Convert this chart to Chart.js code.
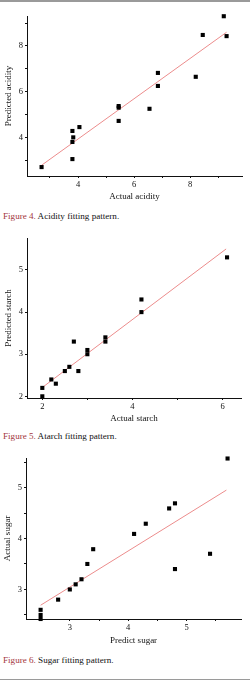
<!DOCTYPE html>
<html>
<head>
<meta charset="utf-8">
<script src="https://cdn.jsdelivr.net/npm/chart.js@4.4.0/dist/chart.umd.min.js"></script>
<style>
  body { margin: 0; width: 250px; height: 683px; position: relative; background: #fff; overflow: hidden; }
  .box { position: absolute; left: 0; width: 250px; }
  .cap { position: absolute; left: 3px; font-family: "Liberation Serif", serif; font-size: 9.1px; color: #111; white-space: nowrap; line-height: 10px; }
  .cap span { color: #a3353b; }
  .rule { position: absolute; left: 0; width: 250px; height: 1px; background: #9a9a9a; }
</style>
</head>
<body>
<div class="rule" style="top:0;height:2px"></div>

<div class="box" style="top:0;height:205px"><canvas id="c1"></canvas></div>
<div class="cap" style="top:211px"><span>Figure 4.</span> Acidity fitting pattern.</div>

<div class="box" style="top:222px;height:208px"><canvas id="c2"></canvas></div>
<div class="cap" style="top:431px"><span>Figure 5.</span> Atarch fitting pattern.</div>

<div class="box" style="top:445px;height:205px"><canvas id="c3"></canvas></div>
<div class="cap" style="top:655px"><span>Figure 6.</span> Sugar fitting pattern.</div>

<div class="rule" style="top:679px"></div>

<script>
// acidity
const acidActual = [2.7, 3.8, 3.83, 3.8, 3.8, 4.05, 5.45, 5.45, 5.45, 6.55, 6.85, 6.85, 8.2, 8.45, 9.2, 9.3];
const acidPred   = [2.7, 4.28, 4.0, 3.8, 3.05, 4.45, 5.37, 5.3, 4.72, 5.25, 6.82, 6.25, 6.65, 8.48, 9.3, 8.43];
const acidFitX = [2.7, 9.3];
const acidFitY = [2.78, 8.6];
const acidXTicks = [3, 4, 5, 6, 7, 8, 9];
const acidXLabels = [4, 6, 8];
const acidYTicks = [3, 4, 5, 6, 7, 8, 9];
const acidYLabels = [4, 6, 8];

// starch
const starchActual = [2.0, 2.0, 2.2, 2.3, 2.5, 2.6, 2.7, 2.8, 3.0, 3.0, 3.4, 3.4, 4.2, 4.2, 6.1];
const starchPred   = [2.0, 2.2, 2.4, 2.3, 2.6, 2.7, 3.3, 2.6, 3.1, 3.0, 3.4, 3.3, 4.3, 4.0, 5.3];
const starchFitX = [2.0, 6.08];
const starchFitY = [2.21, 5.5];
const starchXTicks = [2, 3, 4, 5, 6];
const starchXLabels = [2, 4, 6];
const starchYTicks = [2, 3, 4, 5];
const starchYLabels = [2, 3, 4, 5];

// sugar
const sugarPredict = [2.5, 2.5, 2.5, 2.8, 3.0, 3.1, 3.2, 3.3, 3.4, 4.1, 4.3, 4.7, 4.8, 4.8, 5.4, 5.7];
const sugarActual  = [2.6, 2.5, 2.42, 2.8, 3.0, 3.1, 3.2, 3.5, 3.79, 4.09, 4.29, 4.59, 4.69, 3.4, 3.7, 5.57];
const sugarFitX = [2.5, 5.68];
const sugarFitY = [2.69, 4.95];
const sugarXTicks = [2.5, 3, 3.5, 4, 4.5, 5, 5.5];
const sugarXLabels = [3, 4, 5];
const sugarYTicks = [2.5, 3, 3.5, 4, 4.5, 5, 5.5];
const sugarYLabels = [3, 4, 5];

const serif = 'Liberation Serif';

function axis(pos, min, max, tickVals, labelVals, title, titlePad, size) {
    return {
        type: 'linear',
        position: pos,
        min: min,
        max: max,
        afterBuildTicks: function (s) { s.ticks = tickVals.map(v => ({ value: v })); },
        afterFit: function (s) {
            if (pos === 'left') s.width = size; else s.height = size;
        },
        ticks: {
            autoSkip: false,
            maxRotation: 0,
            padding: 2,
            color: '#111',
            font: { family: serif, size: 8.5 },
            callback: function (v) { return labelVals.indexOf(v) >= 0 ? String(v) : ''; }
        },
        grid: { drawOnChartArea: false, drawTicks: true, tickLength: 2, color: '#111', lineWidth: 1 },
        border: { display: true, color: '#111', width: 1 },
        title: { display: true, text: title, color: '#111', font: { family: serif, size: 9 }, padding: titlePad }
    };
}

function makeChart(id, xs, ys, fitX, fitY, xAxis, yAxis, pad) {
    const pts = xs.map((x, i) => ({ x: x, y: ys[i] }));
    const fit = fitX.map((x, i) => ({ x: x, y: fitY[i] }));
    return new Chart(document.getElementById(id), {
        type: 'scatter',
        data: {
            datasets: [
                { type: 'line', data: fit, borderColor: '#ec8c8c', borderWidth: 1, pointRadius: 0, fill: false, order: 2 },
                { data: pts, pointStyle: 'rect', pointRadius: 2.9, backgroundColor: '#000', borderWidth: 0, clip: false, order: 1 }
            ]
        },
        options: {
            responsive: true,
            maintainAspectRatio: false,
            animation: false,
            layout: { padding: pad },
            plugins: { legend: { display: false }, tooltip: { enabled: false } },
            scales: { x: xAxis, y: yAxis }
        }
    });
}

makeChart('c1', acidActual, acidPred, acidFitX, acidFitY,
    axis('bottom', 2.18, 9.85, acidXTicks, acidXLabels, 'Actual acidity', { top: 0, bottom: 3 }, 29),
    axis('left', 2.31, 9.31, acidYTicks, acidYLabels, 'Predicted acidity', { top: 3, bottom: 0 }, 27),
    { top: 16, right: 8, bottom: 0, left: 0 });

makeChart('c2', starchActual, starchPred, starchFitX, starchFitY,
    axis('bottom', 1.66, 6.41, starchXTicks, starchXLabels, 'Actual starch', { top: 0, bottom: 6 }, 32),
    axis('left', 1.96, 5.76, starchYTicks, starchYLabels, 'Predicted starch', { top: 3, bottom: 0 }, 27),
    { top: 16, right: 9, bottom: 0, left: 0 });

makeChart('c3', sugarPredict, sugarActual, sugarFitX, sugarFitY,
    axis('bottom', 2.25, 5.93, sugarXTicks, sugarXLabels, 'Predict sugar', { top: 0, bottom: 4 }, 31),
    axis('left', 2.42, 5.58, sugarYTicks, sugarYLabels, 'Actual sugar', { top: 2, bottom: 0 }, 26),
    { top: 13, right: 9, bottom: 0, left: 0 });
</script>
</body>
</html>
